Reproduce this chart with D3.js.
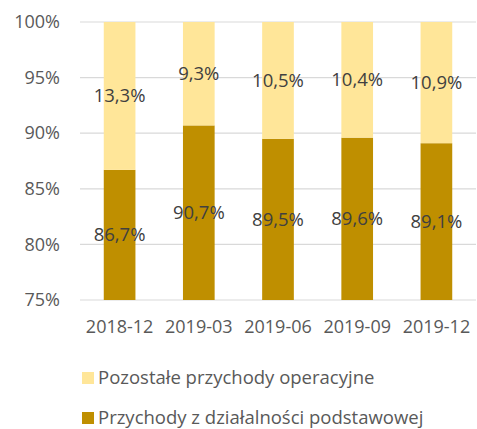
<!DOCTYPE html>
<html>
<head>
<meta charset="utf-8">
<script src="https://cdn.jsdelivr.net/npm/d3@7"></script>
<style>
  html, body { margin: 0; padding: 0; background: #ffffff; }
  svg text { font-family: "Open Sans", "Noto Sans", sans-serif; }
</style>
</head>
<body>
<svg id="chart" width="477" height="429"></svg>
<script>
// Revenue structure by quarter (share of total operating revenue, %)
const categories = ["2018-12", "2019-03", "2019-06", "2019-09", "2019-12"];
const coreRevenue = [86.7, 90.7, 89.5, 89.6, 89.1];   // Przychody z działalności podstawowej
const otherRevenue = [13.3, 9.3, 10.5, 10.4, 10.9];   // Pozostałe przychody operacyjne
const yTicks = [75, 80, 85, 90, 95, 100];
const seriesNames = ["Pozostałe przychody operacyjne", "Przychody z działalności podstawowej"];
const colors = { core: "#BF8F00", other: "#FFE699" };

const svg = d3.select("#chart");
const plot = { left: 80, right: 476, top: 22, bottom: 300 };

const x = d3.scaleBand().domain(categories).range([plot.left, plot.right]).paddingInner(0.6).paddingOuter(0.3);
const y = d3.scaleLinear().domain([75, 100]).range([plot.bottom, plot.top]);

const fmt = v => d3.format(".1f")(v).replace(".", ",") + "%";

// gridlines
svg.append("g").selectAll("line").data(yTicks).join("line")
  .attr("x1", plot.left).attr("x2", plot.right)
  .attr("y1", d => y(d)).attr("y2", d => y(d))
  .attr("stroke", "#d9d9d9").attr("stroke-width", 1.2);

// y axis labels
const yAxis = svg.append("g").attr("transform", `translate(${plot.left - 20},0)`)
  .call(d3.axisLeft(y).tickValues(yTicks).tickFormat(d => d + "%").tickSize(0).tickPadding(0));
yAxis.select(".domain").remove();
yAxis.selectAll("text").attr("fill", "#595959").style("font-size", "18px")
  .style("font-family", "'Open Sans', sans-serif");

// x axis labels
const xAxis = svg.append("g").attr("transform", `translate(0,${plot.bottom})`)
  .call(d3.axisBottom(x).tickSize(0).tickPadding(20));
xAxis.select(".domain").remove();
xAxis.selectAll("text").attr("fill", "#595959").style("font-size", "18px")
  .style("font-family", "'Open Sans', sans-serif");

const rows = categories.map((c, i) => ({ c, core: coreRevenue[i], other: otherRevenue[i] }));
const clampY = v => y(Math.max(75, Math.min(100, v)));

// core revenue (bottom segment)
svg.append("g").selectAll("rect").data(rows).join("rect")
  .attr("x", d => x(d.c)).attr("width", x.bandwidth())
  .attr("y", d => clampY(d.core)).attr("height", d => plot.bottom - clampY(d.core))
  .attr("fill", colors.core);

// other operating revenue (top segment)
svg.append("g").selectAll("rect").data(rows).join("rect")
  .attr("x", d => x(d.c)).attr("width", x.bandwidth())
  .attr("y", d => clampY(d.core + d.other)).attr("height", d => clampY(d.core) - clampY(d.core + d.other))
  .attr("fill", colors.other);

// value labels centred in the visible part of each segment
const labels = svg.append("g").style("font-size", "18.5px").attr("fill", "#404040").attr("text-anchor", "middle");
labels.selectAll("text.core").data(rows).join("text").attr("class", "core")
  .attr("x", d => x(d.c) + x.bandwidth() / 2)
  .attr("y", d => (plot.bottom + clampY(d.core)) / 2)
  .attr("dy", "0.35em").text(d => fmt(d.core));
labels.selectAll("text.other").data(rows).join("text").attr("class", "other")
  .attr("x", d => x(d.c) + x.bandwidth() / 2)
  .attr("y", d => (clampY(d.core) + clampY(d.core + d.other)) / 2)
  .attr("dy", "0.35em").text(d => fmt(d.other));

// legend
const legend = svg.append("g");
const legendItems = [
  { name: seriesNames[0], color: colors.other, y: 378 },
  { name: seriesNames[1], color: colors.core, y: 418 }
];
legend.selectAll("rect").data(legendItems).join("rect")
  .attr("x", 82).attr("y", d => d.y - 6).attr("width", 12).attr("height", 12).attr("fill", d => d.color);
legend.selectAll("text").data(legendItems).join("text")
  .attr("x", 98).attr("y", d => d.y).attr("dy", "0.35em")
  .attr("fill", "#595959").style("font-size", "18.5px").text(d => d.name);
</script>
</body>
</html>
